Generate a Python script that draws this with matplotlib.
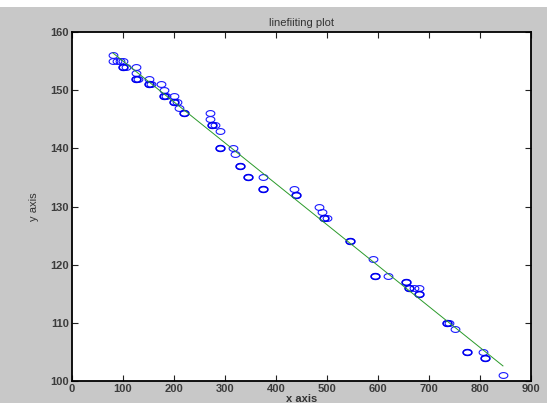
import numpy as np
import matplotlib
matplotlib.use('Agg')
import matplotlib.pyplot as plt
from matplotlib.path import Path
from matplotlib.patches import Rectangle

# data (duplicates drawn twice, like the thick rings)
x_vals = [80, 80, 88, 95, 100, 100, 105, 125, 125, 125, 130, 150, 150, 155,
          175, 180, 180, 185, 200, 200, 205, 210, 220, 270, 270, 275, 280,
          290, 290, 315, 320, 330, 345, 375, 375, 435, 440, 485, 490, 495,
          500, 545, 590, 595, 620, 655, 660, 670, 680, 680, 735, 740, 750,
          775, 805, 810, 845]
y_vals = [156, 155, 155, 155, 155, 154, 154, 154, 153, 152, 152, 152, 151, 151,
          151, 150, 149, 149, 149, 148, 148, 147, 146, 146, 145, 144, 144,
          143, 140, 140, 139, 137, 135, 135, 133, 133, 132, 130, 129, 128,
          128, 124, 121, 118, 118, 117, 116, 116, 115, 116, 110, 110, 109,
          105, 105, 104, 101]
dup_x = [100, 125, 150, 180, 200, 220, 275, 290, 330, 345, 375, 440, 495,
         545, 595, 655, 660, 680, 735, 775, 810]
dup_y = [154, 152, 151, 149, 148, 146, 144, 140, 137, 135, 133, 132, 128,
         124, 118, 117, 116, 115, 110, 105, 104]

title_text = 'linefiiting plot'
x_label = 'x axis'
y_label = 'y axis'

x = np.array(x_vals, dtype=float)
y = np.array(y_vals, dtype=float)
p = np.polyfit(x, y, 1)
xf = np.array([x.min(), x.max()])
yf = np.polyval(p, xf)

# squashed circle, the screenshot is stretched sideways
t = np.linspace(0, 2 * np.pi, 40)
ring = Path(np.column_stack([1.5 * np.cos(t), np.sin(t)]))

plt.rcParams['font.family'] = ['Liberation Sans', 'DejaVu Sans']

fig = plt.figure(figsize=(5.47, 4.03), dpi=100, facecolor='#c8c8c8')
fig.patches.append(Rectangle((0, 1 - 7 / 403), 1, 7 / 403, transform=fig.transFigure,
                             facecolor='white', edgecolor='none', zorder=-1))
ax = fig.add_axes([72 / 547, 22 / 403, 459 / 547, 349 / 403])
ax.set_facecolor('white')

ax.plot(x, y, linestyle='none', marker=ring, markersize=6.3,
        markerfacecolor='none', markeredgecolor='#1a1aff', markeredgewidth=0.8)
ax.plot(dup_x, dup_y, linestyle='none', marker=ring, markersize=6.3,
        markerfacecolor='none', markeredgecolor='#0000ee', markeredgewidth=1.1)
ax.plot(xf, yf, color='#2a9a2a', linewidth=0.7)

ax.set_xlim(0, 900)
ax.set_ylim(100, 160)
ax.set_xticks(np.arange(0, 901, 100))
ax.set_yticks(np.arange(100, 161, 10))
ax.tick_params(direction='in', top=True, right=True, length=4, width=0.8,
               labelsize=8, colors='#222222', labelcolor='#3c3c3c', pad=2)
for lab in ax.get_xticklabels() + ax.get_yticklabels():
    lab.set_fontweight('bold')
for s in ax.spines.values():
    s.set_linewidth(1.3)
    s.set_color('black')

ax.set_title(title_text, fontsize=8, color='#333333', pad=4)
ax.set_xlabel(x_label, fontsize=8, color='#333333', fontweight='bold', labelpad=0)
ax.set_ylabel(y_label, fontsize=8, color='#333333', labelpad=8)

fig.savefig('out.png', dpi=100, facecolor=fig.get_facecolor())
